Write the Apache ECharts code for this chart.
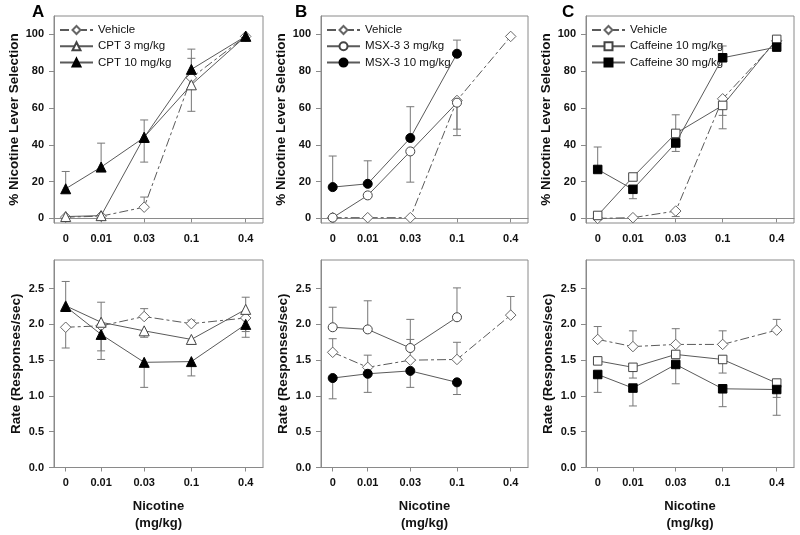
<!DOCTYPE html>
<html>
<head>
<meta charset="utf-8">
<script src="https://cdn.jsdelivr.net/npm/echarts@6/dist/echarts.min.js"></script>
<style>
html,body{margin:0;padding:0;background:#fff;}
#chart{width:800px;height:535px;}
</style>
</head>
<body>
<div id="chart"></div>
<script>
// ---------- data ----------
const doseLabels = ['0', '0.01', '0.03', '0.1', '0.4'];
// dose 0 is drawn at 0.00405 on the log scale (axis break position)
const dosePositions = [0.00405, 0.01, 0.03, 0.1, 0.4];

const selTicks = [0, 20, 40, 60, 80, 100];
const rateTicks = [0, 0.5, 1.0, 1.5, 2.0, 2.5];

// Panel A - % nicotine lever selection
const A_vehicleSel = [0.7, 1.2, 6.1, 76.4, 98.9];
const A_cpt3Sel = [1.0, 1.5, 44.2, 72.6, 99.0];
const A_cpt10Sel = [16.1, 27.9, 44.0, 81.0, 99.0];
const A_vehicleSelErr = [null, null, 11.6, 87.0, null];
const A_cpt3SelErr = [null, null, 30.6, 58.2, null];
const A_cpt10SelErr = [25.5, 40.9, 53.5, 92.0, null];

// Panel B - % nicotine lever selection
const B_vehicleSel = [0.4, 0.4, 0.4, 64.1, 98.9];
const B_msx3Sel = [0.4, 12.5, 36.4, 62.9, null];
const B_msx10Sel = [17.0, 18.8, 43.7, 89.5, null];
const B_vehicleSelErr = [null, null, null, 45.0, null];
const B_msx3SelErr = [null, null, 19.7, 48.5, null];
const B_msx10SelErr = [33.9, 31.3, 60.7, 96.9, null];

// Panel C - % nicotine lever selection
const C_vehicleSel = [0.0, 0.4, 4.0, 65.0, 96.5];
const C_caf10Sel = [1.6, 22.5, 46.2, 61.4, 97.3];
const C_caf30Sel = [26.6, 15.8, 41.0, 87.3, 93.1];
const C_vehicleSelErr = [null, null, 1.0, 56.0, null];
const C_caf10SelErr = [null, 24.0, 56.3, 48.7, null];
const C_caf30SelErr = [38.8, 10.7, 36.4, 93.7, null];

// Panel A - response rate
const A_vehicleRate = [1.96, 1.98, 2.11, 2.01, 2.09];
const A_cpt3Rate = [2.26, 2.03, 1.91, 1.79, 2.21];
const A_cpt10Rate = [2.25, 1.86, 1.47, 1.48, 2.00];
const A_vehicleRateErr = [1.67, 1.63, 2.22, 2.06, 1.90];
const A_cpt3RateErr = [2.60, 2.31, 1.82, 1.77, 2.38];
const A_cpt10RateErr = [null, 1.51, 1.12, 1.28, 1.82];

// Panel B - response rate
const B_vehicleRate = [1.61, 1.40, 1.50, 1.51, 2.13];
const B_msx3Rate = [1.96, 1.93, 1.67, 2.10, null];
const B_msx10Rate = [1.25, 1.31, 1.35, 1.19, null];
const B_vehicleRateErr = [1.80, 1.57, 1.79, 1.75, 2.39];
const B_msx3RateErr = [2.24, 2.33, 2.07, 2.51, null];
const B_msx10RateErr = [0.96, 1.05, 1.12, 1.02, null];

// Panel C - response rate
const C_vehicleRate = [1.79, 1.69, 1.72, 1.72, 1.92];
const C_caf10Rate = [1.49, 1.40, 1.58, 1.51, 1.18];
const C_caf30Rate = [1.30, 1.11, 1.44, 1.10, 1.09];
const C_vehicleRateErr = [1.97, 1.91, 1.94, 1.91, 2.07];
const C_caf10RateErr = [null, 1.25, null, 1.32, 0.98];
const C_caf30RateErr = [1.05, 0.86, 1.17, 0.85, 0.73];

const panelLetters = ['A', 'B', 'C'];
const legendNames = [
  ['Vehicle', 'CPT 3 mg/kg', 'CPT 10 mg/kg'],
  ['Vehicle', 'MSX-3 3 mg/kg', 'MSX-3 10 mg/kg'],
  ['Vehicle', 'Caffeine 10 mg/kg', 'Caffeine 30 mg/kg']
];

// ---------- build ----------
const FONT = '"Liberation Sans", Arial, Helvetica, sans-serif';
const LINE = '#5a5a5a';
const AXIS = '#8a8a8a';
const xLog = dosePositions.map(d => Math.log10(d));

const panels = [
  { sel: [A_vehicleSel, A_cpt3Sel, A_cpt10Sel], selErr: [A_vehicleSelErr, A_cpt3SelErr, A_cpt10SelErr],
    rate: [A_vehicleRate, A_cpt3Rate, A_cpt10Rate], rateErr: [A_vehicleRateErr, A_cpt3RateErr, A_cpt10RateErr],
    symbols: ['diamond', 'triangle', 'triangle'], sizes: [10.5, 10, 10], order: [0, 2, 1] },
  { sel: [B_vehicleSel, B_msx3Sel, B_msx10Sel], selErr: [B_vehicleSelErr, B_msx3SelErr, B_msx10SelErr],
    rate: [B_vehicleRate, B_msx3Rate, B_msx10Rate], rateErr: [B_vehicleRateErr, B_msx3RateErr, B_msx10RateErr],
    symbols: ['diamond', 'circle', 'circle'], sizes: [10.5, 9, 9], order: [0, 1, 2] },
  { sel: [C_vehicleSel, C_caf10Sel, C_caf30Sel], selErr: [C_vehicleSelErr, C_caf10SelErr, C_caf30SelErr],
    rate: [C_vehicleRate, C_caf10Rate, C_caf30Rate], rateErr: [C_vehicleRateErr, C_caf10RateErr, C_caf30RateErr],
    symbols: ['diamond', 'rect', 'rect'], sizes: [10.5, 8.5, 8.5], order: [0, 1, 2] }
];

const colLeft = [54, 321, 586];
const colWidth = [209, 207, 208];
const topNameGap = [24.5, 27.5, 26.5];
const botNameGap = [31, 31, 31];
const topGrid = { top: 16, height: 207 };
const botGrid = { top: 260, height: 207.5 };

const grids = [], xAxes = [], yAxes = [], series = [], legends = [], graphics = [];

function tickLabelStyle() {
  return { color: '#111', fontWeight: 'bold', fontSize: 11, fontFamily: FONT };
}

panels.forEach((p, c) => {
  [0, 1].forEach(row => {
    const gi = grids.length;
    const g = row === 0 ? topGrid : botGrid;
    grids.push({ left: colLeft[c], top: g.top, width: colWidth[c], height: g.height,
      show: true, borderColor: AXIS, borderWidth: 1, backgroundColor: 'transparent' });
    const pxPerDecade = (colWidth[c] - 11.7 - 17.3) / (xLog[4] - xLog[0]);
    xAxes.push({
      type: 'value', gridIndex: gi,
      min: xLog[0] - 11.7 / pxPerDecade, max: xLog[4] + 17.3 / pxPerDecade,
      splitLine: { show: false },
      axisLine: { show: true, lineStyle: { color: AXIS } },
      axisTick: { show: true, length: 4, lineStyle: { color: AXIS }, customValues: xLog },
      axisLabel: { ...tickLabelStyle(), margin: 10, customValues: xLog,
        formatter: v => { let i = 0, best = 1e9; xLog.forEach((x, k) => { if (Math.abs(x - v) < best) { best = Math.abs(x - v); i = k; } }); return doseLabels[i]; } },
      name: row === 1 ? 'Nicotine\n(mg/kg)' : '',
      nameLocation: 'middle', nameGap: 31,
      nameTextStyle: { color: '#111', fontWeight: 'bold', fontSize: 13, fontFamily: FONT, lineHeight: 16.5 }
    });
    const ticks = row === 0 ? selTicks : rateTicks;
    yAxes.push({
      type: 'value', gridIndex: gi,
      min: row === 0 ? -2.5 : 0, max: row === 0 ? 110 : 2.9,
      splitLine: { show: false },
      axisLine: { show: true, lineStyle: { color: AXIS } },
      axisTick: { show: true, length: 5, lineStyle: { color: AXIS }, customValues: ticks },
      axisLabel: { ...tickLabelStyle(), margin: 10, customValues: ticks,
        formatter: v => row === 0 ? String(Math.round(v)) : v.toFixed(1) },
      name: row === 0 ? '% Nicotine Lever Selection' : 'Rate (Responses/sec)',
      nameLocation: 'middle', nameGap: row === 0 ? topNameGap[c] : botNameGap[c], nameRotate: 90,
      nameTextStyle: { color: '#111', fontWeight: 'bold', fontSize: 13.5, fontFamily: FONT }
    });

    const vals = row === 0 ? p.sel : p.rate;
    const errs = row === 0 ? p.selErr : p.rateErr;

    // error bars first (behind markers)
    vals.forEach((arr, s) => {
      const data = [];
      arr.forEach((v, k) => { if (v != null && errs[s][k] != null) data.push([xLog[k], v, errs[s][k]]); });
      series.push({
        type: 'custom', name: 'err', xAxisIndex: gi, yAxisIndex: gi, z: 1, silent: true,
        data: data,
        encode: { x: 0, y: [1, 2] },
        renderItem: (params, api) => {
          const p0 = api.coord([api.value(0), api.value(1)]);
          const p1 = api.coord([api.value(0), api.value(2)]);
          const st = { stroke: '#777', lineWidth: 1 };
          return { type: 'group', children: [
            { type: 'line', shape: { x1: p0[0], y1: p0[1], x2: p1[0], y2: p1[1] }, style: st },
            { type: 'line', shape: { x1: p1[0] - 4, y1: p1[1], x2: p1[0] + 4, y2: p1[1] }, style: st }
          ] };
        }
      });
    });

    p.order.forEach(s => {
      const arr = vals[s];
      const filled = s === 2;
      series.push({
        type: 'line', name: legendNames[c][s], xAxisIndex: gi, yAxisIndex: gi, z: 3 + s,
        data: arr.map((v, k) => v == null ? null : [xLog[k], v]).filter(d => d),
        symbol: p.symbols[s], symbolSize: p.sizes[s],
        showAllSymbol: true,
        lineStyle: { color: LINE, width: 1, type: s === 0 ? [9, 3, 3, 3] : 'solid' },
        itemStyle: { color: filled ? '#000' : '#fff', borderColor: filled ? '#000' : (s === 0 ? '#666' : '#444'), borderWidth: 1, opacity: 1 },
        emphasis: { disabled: true },
        animation: false
      });
    });
  });

  legends.push({
    data: legendNames[c], orient: 'vertical', left: colLeft[c], top: 19,
    itemWidth: 33, itemHeight: 10, itemGap: 4.3, selectedMode: false,
    textStyle: { fontSize: 11.5, color: '#111', fontFamily: FONT },
    backgroundColor: 'transparent'
  });

  graphics.push({ type: 'text', left: [32, 295, 562][c], top: 4,
    style: { text: panelLetters[c], font: 'bold 17px ' + FONT, fill: '#000' } });
});

const chart = echarts.init(document.getElementById('chart'), null, { renderer: 'canvas' });
chart.setOption({
  animation: false,
  backgroundColor: '#fff',
  grid: grids, xAxis: xAxes, yAxis: yAxes, series: series,
  legend: legends, graphic: graphics
});
</script>
</body>
</html>
